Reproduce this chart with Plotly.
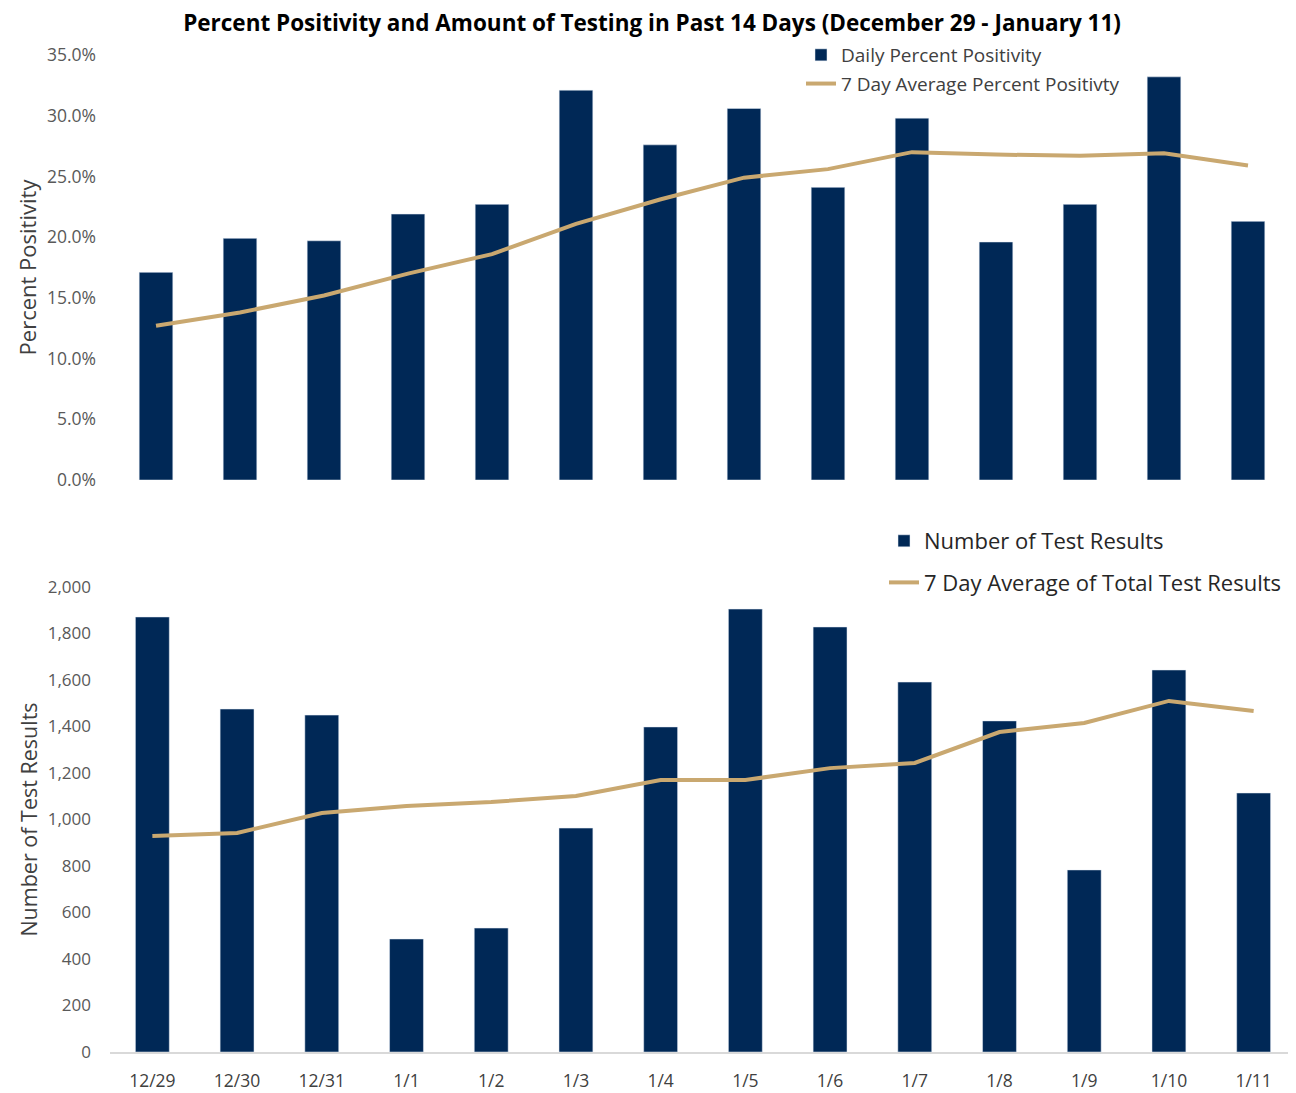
import plotly.graph_objects as go

dates = ["12/29", "12/30", "12/31", "1/1", "1/2", "1/3", "1/4",
         "1/5", "1/6", "1/7", "1/8", "1/9", "1/10", "1/11"]

daily_pct = [17.1, 19.9, 19.7, 21.9, 22.7, 32.1, 27.6,
             30.6, 24.1, 29.8, 19.6, 22.7, 33.2, 21.3]
avg7_pct = [12.7, 13.8, 15.2, 17.0, 18.6, 21.1, 23.1,
            24.9, 25.6, 27.0, 26.8, 26.7, 26.9, 25.9]

tests = [1871, 1475, 1449, 486, 533, 963, 1398,
         1905, 1828, 1591, 1424, 783, 1643, 1114]
avg7_tests = [929, 942, 1028, 1058, 1075, 1101, 1170,
              1170, 1221, 1243, 1376, 1415, 1510, 1467]

pct_ticks = [0, 5, 10, 15, 20, 25, 30, 35]
pct_ticklabels = [f"{v:.1f}%" for v in pct_ticks]
test_ticks = list(range(0, 2001, 200))
test_ticklabels = [f"{v:,}" for v in test_ticks]

NAVY = "#002856"
GOLD = "#C9A870"
FONT = "Open Sans"
W, H = 1296, 1093
OFF = 8  # page body margin


def px_x(p):
    return (p - OFF) / W


def px_y(p):
    return 1 - (p - OFF) / H


fig = go.Figure()

fig.add_trace(go.Bar(x=dates, y=daily_pct, name="Daily Percent Positivity",
                     marker=dict(color=NAVY), xaxis="x", yaxis="y",
                     legend="legend", legendgroup="a"))
fig.add_trace(go.Scatter(x=dates, y=avg7_pct, name="7 Day Average Percent Positivty",
                         mode="lines", line=dict(color=GOLD, width=4),
                         xaxis="x", yaxis="y", legend="legend", legendgroup="b"))
fig.add_trace(go.Bar(x=dates, y=tests, name="Number of Test Results",
                     marker=dict(color=NAVY), xaxis="x2", yaxis="y2",
                     legend="legend2", legendgroup="c"))
fig.add_trace(go.Scatter(x=dates, y=avg7_tests, name="7 Day Average of Total Test Results",
                         mode="lines", line=dict(color=GOLD, width=4),
                         xaxis="x2", yaxis="y2", legend="legend2", legendgroup="d"))

fig.update_layout(
    width=W, height=H,
    margin=dict(l=0, r=0, t=0, b=0),
    paper_bgcolor="white", plot_bgcolor="white",
    font=dict(family=FONT, color="#595959"),
    bargap=0.6,
    title=dict(text="<b>Percent Positivity and Amount of Testing in Past 14 Days (December 29 - January 11)</b>",
               x=px_x(652), xanchor="center", y=px_y(23), yanchor="middle",
               font=dict(family=FONT, size=22.5, color="#000000")),
    xaxis=dict(domain=[px_x(114), px_x(1290)], anchor="y", showticklabels=False,
               showline=False, showgrid=False, zeroline=False, ticks=""),
    yaxis=dict(domain=[px_y(480), px_y(55)], anchor="x", range=[0, 35],
               tickvals=pct_ticks, ticktext=pct_ticklabels,
               tickfont=dict(size=17.5, color="#595959"), ticklabelstandoff=17,
               showgrid=False, zeroline=False, showline=False,
               title=dict(text="Percent Positivity", font=dict(size=22, color="#404040"), standoff=4),
               automargin=False),
    xaxis2=dict(domain=[px_x(110), px_x(1296)], anchor="y2",
                tickfont=dict(size=17.5, color="#404040"), ticklabelstandoff=12,
                showline=True, linecolor="#D9D9D9", linewidth=1.5,
                showgrid=False, zeroline=False, ticks="", automargin=False),
    yaxis2=dict(domain=[px_y(1052), px_y(587)], anchor="x2", range=[0, 2000],
                tickvals=test_ticks, ticktext=test_ticklabels,
                tickfont=dict(size=17, color="#595959"), ticklabelstandoff=18,
                showgrid=False, zeroline=False, showline=False,
                title=dict(text="Number of Test Results", font=dict(size=21.5, color="#404040"), standoff=4),
                automargin=False),
    legend=dict(x=px_x(801), y=px_y(36), xanchor="left", yanchor="top",
                font=dict(size=19, color="#404040"), bgcolor="rgba(0,0,0,0)",
                tracegroupgap=1, traceorder="grouped", itemwidth=30),
    legend2=dict(x=px_x(884), y=px_y(520), xanchor="left", yanchor="top",
                 font=dict(size=22, color="#262626"), bgcolor="rgba(0,0,0,0)",
                 tracegroupgap=10, traceorder="grouped", itemwidth=30),
)

fig.write_html("out.html")
